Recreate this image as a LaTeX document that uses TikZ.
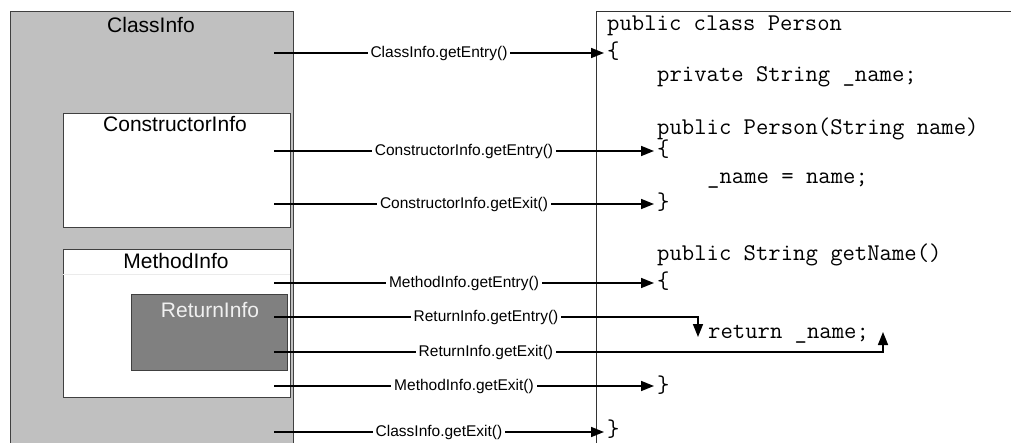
\documentclass[tikz,border=0pt]{standalone}
\usepackage{fontspec}
\setmainfont{Liberation Sans}
\usetikzlibrary{arrows.meta}
\begin{document}
\begin{tikzpicture}[x=1pt,y=-1pt,
  box/.style={draw=black!75, line width=0.8pt, anchor=north west, inner sep=0pt, outer sep=0pt},
  title/.style={anchor=base, font=\fontsize{21}{24}\selectfont, inner sep=0pt},
  code/.style={anchor=base west, font=\ttfamily\fontsize{24}{26}\selectfont, inner xsep=3pt, inner ysep=0pt},
  lbl/.style={fill=white, font=\fontsize{15.5}{18}\selectfont, inner xsep=3pt, inner ysep=1pt},
  call/.style={line width=1.6pt, -{Triangle[length=13pt,width=10pt]}},
]
\useasboundingbox (0,0) rectangle (1011,443);
\clip (0,0) rectangle (1011,443);
% boxes
\node[box, fill={rgb,255:red,192;green,192;blue,192}, minimum width=283pt, minimum height=445pt] (ci) at (10,11) {};
\node[box, fill=white, minimum width=227pt, minimum height=114pt] (coi) at (63,113) {};
\node[box, fill=white, minimum width=227pt, minimum height=148pt] (mi) at (63,249) {};
\draw[black!8, line width=0.6pt] (mi.west |- 0,274) -- (mi.east |- 0,274);
\node[box, fill={rgb,255:red,128;green,128;blue,128}, minimum width=156pt, minimum height=76pt] (ri) at (131,294) {};
\node[box, draw=black!80, fill=white, minimum width=430pt, minimum height=450pt] (src) at (596,11) {};
% titles
\node[title] (tci) at (151,33) {ClassInfo};
\node[title] (tcoi) at (175,132) {ConstructorInfo};
\node[title] (tmi) at (176,269) {MethodInfo};
\node[title, text=white!94!black] (tri) at (210,317) {ReturnInfo};
% code
\node[code] (l1) at (604,31) {public class Person};
\node[code] (b1) at (604,59) {\{};
\node[code] (l2) at (654,82) {private String \_name;};
\node[code] (l3) at (654,135) {public Person(String name)};
\node[code] (b2) at (654,157) {\{};
\node[code] (l4) at (704,184) {\_name = name;};
\node[code] (b3) at (654,210) {\}};
\node[code] (l5) at (654,261) {public String getName()};
\node[code] (b4) at (654,289) {\{};
\node[code] (l6) at (705,338) {return \_name;};
\node[code] (b5) at (654,392) {\}};
\node[code] (b6) at (604,436) {\}};
% connector ends
\coordinate (s1) at (274,53);
\coordinate (s2) at (274,151);
\coordinate (s3) at (274,204);
\coordinate (s4) at (274,283);
\coordinate (s5) at (274,317);
\coordinate (s6) at (274,352);
\coordinate (s7) at (274,386);
\coordinate (s8) at (274,432);
\coordinate (t5) at (698,337);
\coordinate (t6) at (883,332);
% connectors
\draw[call] (s1) -- node[lbl]{ClassInfo.getEntry()} (s1 -| b1.west);
\draw[call] (s2) -- node[lbl]{ConstructorInfo.getEntry()} (s2 -| b2.west);
\draw[call] (s3) -- node[lbl]{ConstructorInfo.getExit()} (s3 -| b3.west);
\draw[call] (s4) -- node[lbl]{MethodInfo.getEntry()} (s4 -| b4.west);
\draw[call] (s5) -| node[lbl, pos=0.25]{ReturnInfo.getEntry()} (t5);
\draw[call] (s6) -| node[lbl, pos=0.174]{ReturnInfo.getExit()} (t6);
\draw[call] (s7) -- node[lbl]{MethodInfo.getExit()} (s7 -| b5.west);
\draw[call] (s8) -- node[lbl]{ClassInfo.getExit()} (s8 -| b6.west);
\end{tikzpicture}
\end{document}
